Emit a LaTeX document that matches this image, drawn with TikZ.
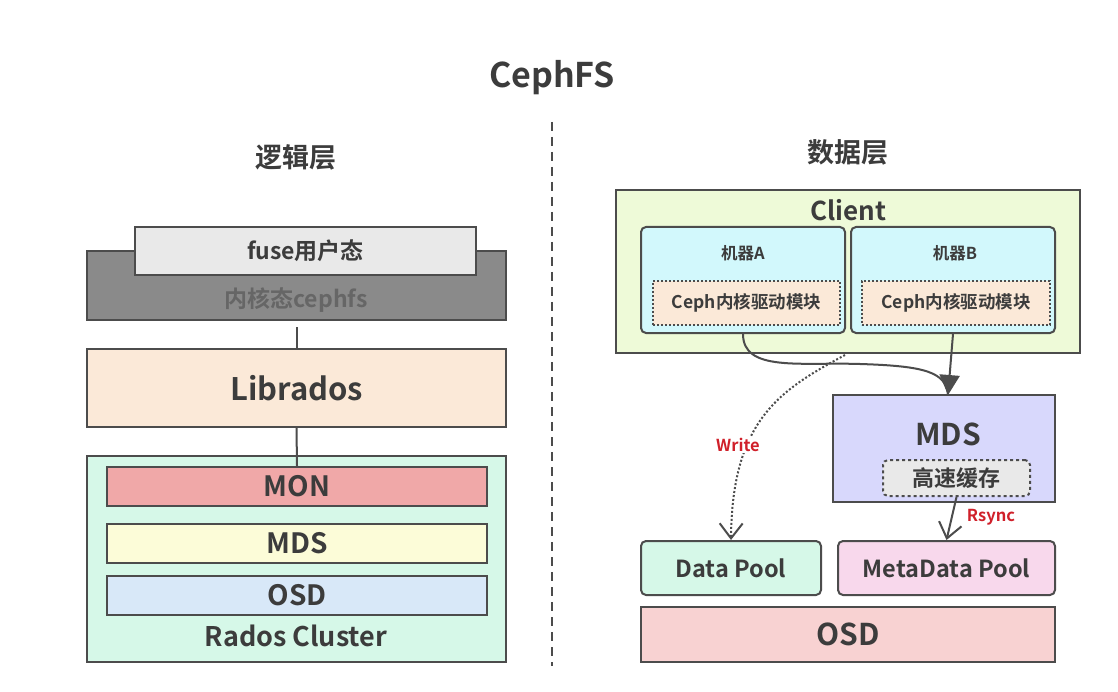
\documentclass[tikz,border=0pt]{standalone}
\usepackage{fontspec}
\setmainfont{Noto Sans CJK SC}[BoldFont={Noto Sans CJK SC Bold}]
\usetikzlibrary{arrows.meta}
\definecolor{cfsText}{HTML}{3C3C3C}
\definecolor{cfsLine}{HTML}{4C4C4C}
\definecolor{cfsRed}{HTML}{D0202A}
\definecolor{cfsGray}{HTML}{8A8A8A}
\definecolor{cfsLight}{HTML}{E9E9E9}
\definecolor{cfsPeach}{HTML}{FBE9D8}
\definecolor{cfsMint}{HTML}{D6F8E8}
\definecolor{cfsRose}{HTML}{F0A8A8}
\definecolor{cfsCream}{HTML}{FCFCD8}
\definecolor{cfsSky}{HTML}{D8E8F8}
\definecolor{cfsLime}{HTML}{EEFAD8}
\definecolor{cfsCyan}{HTML}{D2F8FC}
\definecolor{cfsLilac}{HTML}{D8D8FC}
\definecolor{cfsPink}{HTML}{F8D8EC}
\definecolor{cfsSalmon}{HTML}{F8D2D2}

\begin{document}
\begin{tikzpicture}[x=1pt,y=-1pt]
            \tikzset{
            cfs box/.style={rectangle,draw=cfsLine,line width=2pt,inner sep=0,text=cfsText,font=\bfseries},
            cfs round/.style={cfs box,rounded corners=5pt},
            cfs label/.style={inner sep=1pt,text=cfsText,font=\bfseries},
            cfs tip/.style={-{Straight Barb[width=23pt,length=15pt,line width=2pt]}}
            }
            \useasboundingbox[fill=white] (0,0) rectangle (1118,692);
            % titles
            \node[cfs label,font=\bfseries\fontsize{34}{40}\selectfont] (title) at (552,78) {CephFS};
            \node[cfs label,font=\bfseries\fontsize{27}{32}\selectfont] (logic) at (296,157) {逻辑层};
            \node[cfs label,font=\bfseries\fontsize{27}{32}\selectfont] (data) at (848,152) {数据层};
            \coordinate (sep top) at (552,122);
            \coordinate (sep bot) at (552,666);
            \draw[cfsLine,line width=2pt,dash pattern=on 9pt off 6pt] (sep top) -- (sep bot);

            % left: logic layer
            \node[cfs box,fill=cfsGray,minimum width=419,minimum height=69] (kernel) at (296.5,285.5) {};
            \node[cfs box,fill=cfsLight,minimum width=341,minimum height=48,font=\bfseries\fontsize{23}{27}\selectfont] (fuse) at (305.5,251) {fuse用户态};
            \node[cfs label,text=black!60,font=\bfseries\fontsize{23}{27}\selectfont] (kerneltxt) at (296,300) {内核态cephfs};
            \node[cfs box,fill=cfsPeach,minimum width=419,minimum height=78,font=\bfseries\fontsize{31}{36}\selectfont] (librados) at (296.5,388) {Librados};
            \node[cfs box,fill=cfsMint,minimum width=419,minimum height=206] (rados) at (296.5,559) {};
            \node[cfs box,fill=cfsRose,minimum width=380,minimum height=39,font=\bfseries\fontsize{28}{32}\selectfont] (mon) at (297,486.5) {MON};
            \node[cfs box,fill=cfsCream,minimum width=380,minimum height=39,font=\bfseries\fontsize{28}{32}\selectfont] (lmds) at (297,543.5) {MDS};
            \node[cfs box,fill=cfsSky,minimum width=380,minimum height=39,font=\bfseries\fontsize{28}{32}\selectfont] (losd) at (297,595.5) {OSD};
            \node[cfs label,font=\bfseries\fontsize{27}{31}\selectfont] (radostxt) at (296,636) {Rados Cluster};
            \draw[cfsLine,line width=2pt] (kernel.south) ++(0,6) -- (librados.north);
            \draw[cfsLine,line width=2pt] (librados.south) -- (mon.north);

            % right: data layer
            \node[cfs box,fill=cfsLime,minimum width=464,minimum height=163] (client) at (848,271.5) {};
            \node[cfs label,font=\bfseries\fontsize{26}{30}\selectfont] (clienttxt) at (848,210) {Client};
            \node[cfs round,fill=cfsCyan,minimum width=204,minimum height=106] (ma) at (743,280) {};
            \node[cfs round,fill=cfsCyan,minimum width=204,minimum height=106] (mb) at (953,280) {};
            \node[cfs label,font=\bfseries\fontsize{16.5}{20}\selectfont] (matxt) at (743,253) {机器A};
            \node[cfs label,font=\bfseries\fontsize{16.5}{20}\selectfont] (mbtxt) at (955,253) {机器B};
            \node[cfs box,fill=cfsPeach,dotted,minimum width=187,minimum height=44,font=\bfseries\fontsize{17.5}{21}\selectfont] (drva) at (746.5,303) {Ceph内核驱动模块};
            \node[cfs box,fill=cfsPeach,dotted,minimum width=188,minimum height=44,font=\bfseries\fontsize{17.5}{21}\selectfont] (drvb) at (956,303) {Ceph内核驱动模块};
            \node[cfs box,fill=cfsLilac,minimum width=222,minimum height=107] (mds) at (944,448.5) {};
            \node[cfs label,font=\bfseries\fontsize{30}{35}\selectfont] (mdstxt) at (948,434) {MDS};
            \node[cfs round,fill=cfsLight,dashed,minimum width=147,minimum height=36,font=\bfseries\fontsize{22}{26}\selectfont] (cache) at (956.5,478) {高速缓存};
            \node[cfs round,fill=cfsMint,minimum width=180,minimum height=54,font=\bfseries\fontsize{23.5}{28}\selectfont] (dpool) at (731,568) {Data Pool};
            \node[cfs round,fill=cfsPink,minimum width=217,minimum height=54,font=\bfseries\fontsize{23.5}{28}\selectfont] (mpool) at (946.5,568) {MetaData Pool};
            \node[cfs box,fill=cfsSalmon,minimum width=414,minimum height=55,font=\bfseries\fontsize{30}{35}\selectfont] (rosd) at (848,634.5) {OSD};

            \coordinate (mds in) at (948,395);
            \coordinate (write from) at (845,355);
            \path[draw=cfsLine,line width=2pt,-{Triangle[width=20pt,length=20pt]}]
            (ma.south) .. controls (743,372) and (800,362) .. (860,364) .. controls (925,366) and (946,372) .. (mds in)
            (mb.south) -- (mds in)
            ;
            \draw[cfsLine,line width=2pt,dotted,cfs tip]
            (write from) .. controls (780,390) and (732,420) .. (dpool.north);
            \node[cfs label,fill=white,text=cfsRed,font=\bfseries\fontsize{16.5}{20}\selectfont] (writetxt) at (738,445) {Write};
            \draw[cfsLine,line width=2pt,cfs tip]
            (cache.south) -- (mpool.north);
            \node[cfs label,text=cfsRed,font=\bfseries\fontsize{16.5}{20}\selectfont] (rsynctxt) at (991,517) {Rsync};
        \end{tikzpicture}
\end{document}
